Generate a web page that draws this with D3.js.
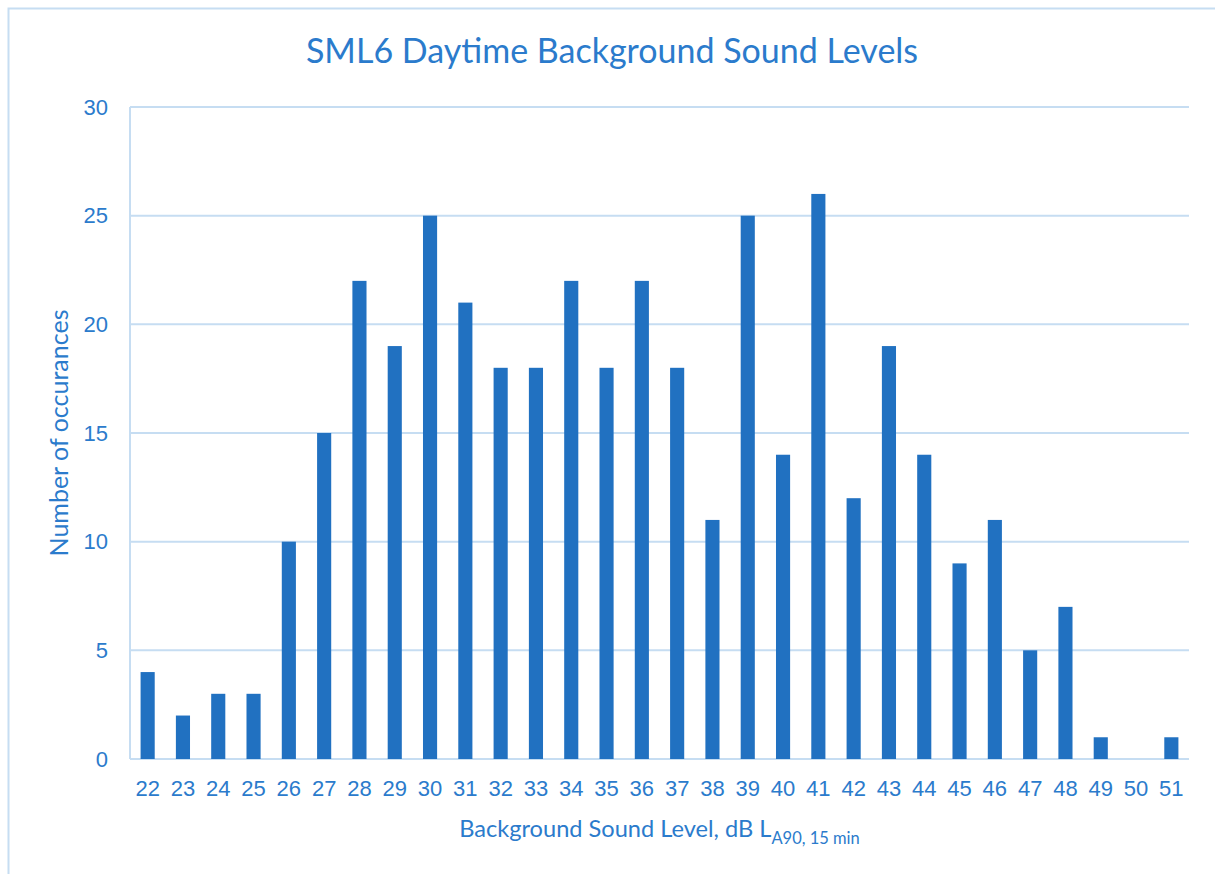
<!DOCTYPE html>
<html>
<head>
<meta charset="utf-8">
<script src="https://cdn.jsdelivr.net/npm/d3@7"></script>
<style>
  html, body { margin: 0; padding: 0; background: #fff; }
  svg { display: block; font-family: Lato, "Open Sans", sans-serif; }
</style>
</head>
<body>
<svg id="chart" width="1215" height="874"></svg>
<script>
const categories = ["22","23","24","25","26","27","28","29","30","31","32","33","34","35","36","37","38","39","40","41","42","43","44","45","46","47","48","49","50","51"];
const occurrences = [4,2,3,3,10,15,22,19,25,21,18,18,22,18,22,18,11,25,14,26,12,19,14,9,11,5,7,1,0,1];
const yTicks = [0,5,10,15,20,25,30];
const titleText = "SML6 Daytime Background Sound Levels";
const xTitleMain = "Background Sound Level, dB L";
const xTitleSub = "A90, 15 min";
const yTitleText = "Number of occurances";

const textColor = "#2b7bcc";
const barColor = "#2171c1";
const gridColor = "#c6ddf2";

const svg = d3.select("#chart");
const W = 1215, H = 874;
const plot = {left: 130, right: 1189, top: 107, bottom: 759};

// chart border
svg.append("rect").attr("x", 8.5).attr("y", 8.5).attr("width", W + 10).attr("height", H + 10)
  .attr("fill", "none").attr("stroke", gridColor).attr("stroke-width", 2);

const x = d3.scaleBand().domain(categories).range([plot.left, plot.right]).paddingInner(0.6).paddingOuter(0.3);
const y = d3.scaleLinear().domain([0, 30]).range([plot.bottom, plot.top]);

// gridlines
svg.append("g").selectAll("line").data(yTicks).join("line")
  .attr("x1", plot.left).attr("x2", plot.right)
  .attr("y1", d => y(d)).attr("y2", d => y(d))
  .attr("stroke", gridColor).attr("stroke-width", 2);
// left axis line
svg.append("line").attr("x1", plot.left).attr("x2", plot.left).attr("y1", plot.top).attr("y2", plot.bottom)
  .attr("stroke", gridColor).attr("stroke-width", 2);

// bars
svg.append("g").selectAll("rect").data(occurrences).join("rect")
  .attr("x", (d, i) => x(categories[i]))
  .attr("width", x.bandwidth())
  .attr("y", d => y(d))
  .attr("height", d => y(0) - y(d))
  .attr("fill", barColor);

// y axis
const yAxis = d3.axisLeft(y).tickValues(yTicks).tickSize(0).tickPadding(22);
const gy = svg.append("g").attr("transform", `translate(${plot.left},0)`).call(yAxis);
gy.select(".domain").remove();
gy.selectAll("text").attr("fill", textColor).style("font-size", "22px");

// x axis
const xAxis = d3.axisBottom(x).tickSize(0).tickPadding(21);
const gx = svg.append("g").attr("transform", `translate(0,${plot.bottom})`).call(xAxis);
gx.select(".domain").remove();
gx.selectAll("text").attr("fill", textColor).style("font-size", "22px");

// title
svg.append("text").attr("x", 612).attr("y", 63).attr("text-anchor", "middle")
  .attr("fill", textColor).style("font-size", "34px").text(titleText);

// x title
const xt = svg.append("text").attr("x", (plot.left + plot.right) / 2).attr("y", 837).attr("text-anchor", "middle")
  .attr("fill", textColor).style("font-size", "23.6px");
xt.append("tspan").text(xTitleMain);
xt.append("tspan").attr("dy", 7).style("font-size", "16.5px").text(xTitleSub);

// y title
svg.append("text").attr("transform", `translate(68,${(plot.top + plot.bottom) / 2}) rotate(-90)`)
  .attr("text-anchor", "middle").attr("fill", textColor).style("font-size", "25px").text(yTitleText);
</script>
</body>
</html>
